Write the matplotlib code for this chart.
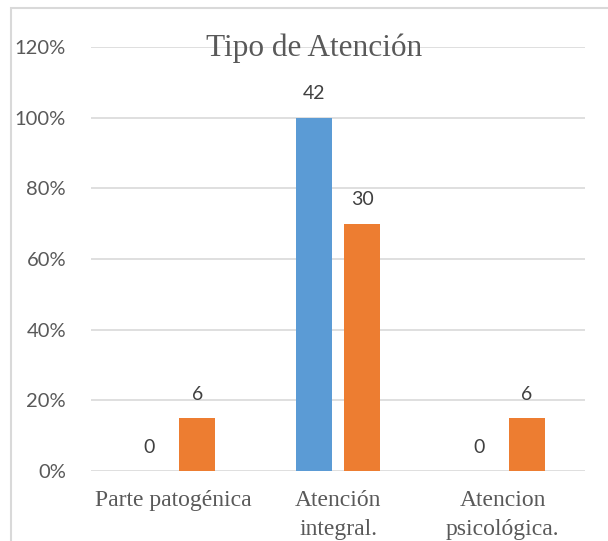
import numpy as np
import matplotlib
matplotlib.use("Agg")
import matplotlib.pyplot as plt
from matplotlib.patches import Rectangle
from matplotlib.ticker import FuncFormatter

categories = ["Parte patogénica", "Atención\nintegral.", "Atencion\npsicológica."]
blue_pct = [0, 100, 0]
orange_pct = [15, 70, 15]
blue_labels = ["0", "42", "0"]
orange_labels = ["6", "30", "6"]
y_ticks = [0, 20, 40, 60, 80, 100, 120]

blue = "#5B9BD5"
orange = "#ED7D31"
grey = "#595959"

fig = plt.figure(figsize=(6.08, 5.41), dpi=100)
fig.patches.append(Rectangle((11 / 608, -0.1), 1.2, 1 - 8 / 541 + 0.1,
                             transform=fig.transFigure, fill=False,
                             edgecolor="#d9d9d9", linewidth=1.5))
ax = fig.add_axes([91 / 608, 1 - 471 / 541, 494 / 608, 424 / 541])

x = np.arange(len(categories))
w = 0.22
off = 0.146
b1 = ax.bar(x - off, blue_pct, w, color=blue, zorder=3)
b2 = ax.bar(x + off, orange_pct, w, color=orange, zorder=3)
ax.bar_label(b1, labels=blue_labels, padding=11, fontsize=14,
             color="#404040", family="Lato")
ax.bar_label(b2, labels=orange_labels, padding=11, fontsize=14,
             color="#404040", family="Lato")

ax.set_xlim(-0.5, 2.5)
ax.set_ylim(0, 120)
ax.set_yticks(y_ticks)
ax.yaxis.set_major_formatter(FuncFormatter(lambda v, p: f"{v:.0f}%"))
ax.grid(axis="y", color="#d9d9d9", linewidth=1.2, zorder=0)
for s in ax.spines.values():
    s.set_visible(False)
ax.tick_params(axis="y", length=0, pad=18, labelsize=14.5, labelcolor=grey)
ax.tick_params(axis="x", length=0, pad=14)
ax.set_xticks(x)
ax.set_xticklabels(categories, fontsize=17, color=grey,
                   family="Liberation Serif", linespacing=1.5)
for lbl in ax.get_yticklabels():
    lbl.set_family("Lato")

fig.text(314 / 608, 1 - 48 / 541, "Tipo de Atención", ha="center", va="center",
         fontsize=22.5, color=grey, family="Liberation Serif")

fig.savefig("out.png", dpi=100)
